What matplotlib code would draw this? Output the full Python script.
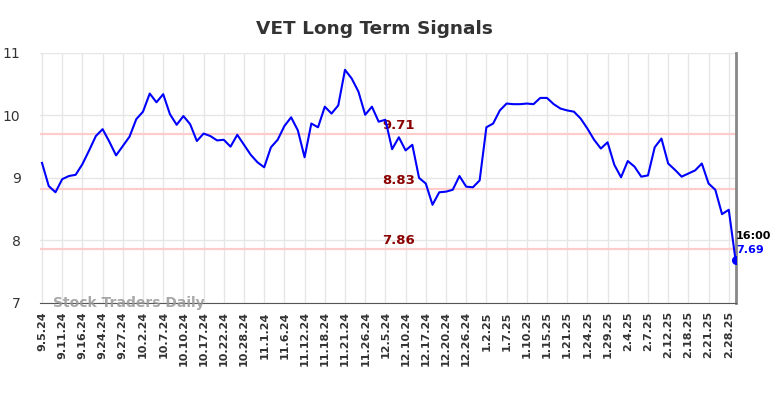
import numpy as np
import matplotlib
matplotlib.use('Agg')
import matplotlib.pyplot as plt

# closing prices, one per trading day
prices = [9.24, 8.87, 8.77, 8.98, 9.03, 9.05, 9.22, 9.44, 9.67, 9.78,
          9.58, 9.36, 9.51, 9.66, 9.94, 10.06, 10.35, 10.21, 10.34, 10.02,
          9.85, 9.99, 9.86, 9.59, 9.71, 9.67, 9.60, 9.61, 9.50, 9.69,
          9.53, 9.37, 9.25, 9.17, 9.49, 9.61, 9.83, 9.97, 9.76, 9.33,
          9.87, 9.81, 10.14, 10.03, 10.16, 10.73, 10.59, 10.38, 10.01, 10.14,
          9.90, 9.93, 9.46, 9.65, 9.44, 9.53, 9.00, 8.91, 8.57, 8.77,
          8.78, 8.81, 9.03, 8.86, 8.85, 8.96, 9.81, 9.87, 10.08, 10.19,
          10.18, 10.18, 10.19, 10.18, 10.28, 10.28, 10.18, 10.11, 10.08, 10.06,
          9.95, 9.79, 9.61, 9.47, 9.57, 9.21, 9.01, 9.27, 9.18, 9.02,
          9.04, 9.49, 9.63, 9.23, 9.13, 9.02, 9.07, 9.12, 9.23, 8.91,
          8.81, 8.42, 8.49, 7.69]

tick_labels = ['9.5.24', '9.11.24', '9.16.24', '9.24.24', '9.27.24', '10.2.24',
               '10.7.24', '10.10.24', '10.17.24', '10.22.24', '10.28.24', '11.1.24',
               '11.6.24', '11.12.24', '11.18.24', '11.21.24', '11.26.24', '12.5.24',
               '12.10.24', '12.17.24', '12.20.24', '12.26.24', '1.2.25', '1.7.25',
               '1.10.25', '1.15.25', '1.21.25', '1.24.25', '1.29.25', '2.4.25',
               '2.7.25', '2.12.25', '2.18.25', '2.21.25', '2.28.25']

signal_levels = [9.71, 8.83, 7.86]
last_time = '16:00'

x = np.arange(len(prices))
ticks = x[::3]

fig = plt.figure(figsize=(7.84, 3.98), dpi=100)
ax = fig.add_axes([0.051, 0.239, 0.888, 0.628])

ax.grid(True, color='#e6e6e6', linewidth=1)
ax.set_axisbelow(True)

for lvl in signal_levels:
    ax.axhline(lvl, color='#ffcccc', linewidth=1.6, zorder=1)
    ax.text(53, lvl + 0.03, '%.2f' % lvl, color='#8b0000', fontsize=9.5,
            fontweight='bold', ha='center', va='bottom', zorder=3)

ax.plot(x, prices, color='#0000ff', linewidth=1.5, zorder=4)
ax.plot(x[-1], prices[-1], 'o', color='#0000ff', markersize=5.5, zorder=5)

ax.text(x[-1] + 0.1, prices[-1] + 0.3, last_time, color='black', fontsize=8,
        fontweight='bold', ha='left', va='bottom')
ax.text(x[-1] + 0.1, prices[-1] + 0.08, '%.2f' % prices[-1], color='#0000ff',
        fontsize=8, fontweight='bold', ha='left', va='bottom')

ax.text(0.018, 0.0, 'Stock Traders Daily', transform=ax.transAxes, color='#999999',
        alpha=0.85, fontsize=10, fontweight='bold', ha='left', va='center')

ax.set_xlim(-0.3, 103.1)
ax.set_ylim(7, 11)
ax.set_yticks([7, 8, 9, 10, 11])
ax.set_xticks(ticks)
ax.set_xticklabels(tick_labels, rotation=90, fontsize=8, fontweight='bold', color='#333333')
ax.tick_params(axis='y', labelsize=10, colors='#333333', length=0, pad=14)
ax.tick_params(axis='x', length=0, pad=6)

for s in ['top', 'left']:
    ax.spines[s].set_visible(False)
ax.spines['bottom'].set_color('#555555')
ax.spines['right'].set_color('#888888')
ax.spines['right'].set_linewidth(2)

fig.suptitle('VET Long Term Signals', x=0.478, fontsize=13.3, fontweight='bold',
             color='#333333', y=0.95)

fig.savefig('out.png', dpi=100)
